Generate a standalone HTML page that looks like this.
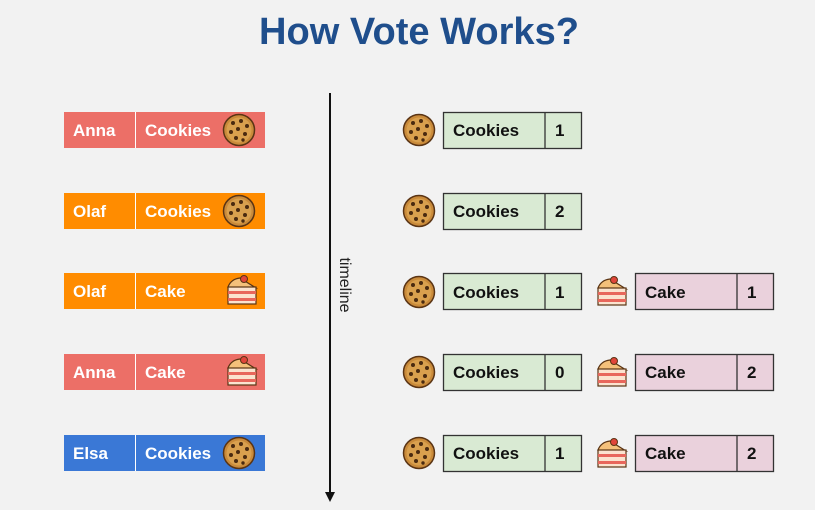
<!DOCTYPE html>
<html><head><meta charset="utf-8"><style>
html,body{margin:0;padding:0;background:#f2f2f2;}
svg{display:block;font-family:"Liberation Sans",sans-serif;}
</style></head><body>
<svg width="815" height="510" viewBox="0 0 815 510" xmlns="http://www.w3.org/2000/svg">
<defs>
<g id="cookie">
<circle cx="16" cy="16" r="15.5" fill="#c98a3a" stroke="#5a3414" stroke-width="1.5"/>
<circle cx="16" cy="16" r="12.5" fill="#d9a04e"/>
<circle cx="10" cy="9" r="2" fill="#4a2a10"/><circle cx="18" cy="7" r="2" fill="#4a2a10"/>
<circle cx="24" cy="12" r="2" fill="#4a2a10"/><circle cx="15" cy="15" r="2" fill="#4a2a10"/>
<circle cx="8" cy="18" r="2" fill="#4a2a10"/><circle cx="22" cy="20" r="2" fill="#4a2a10"/>
<circle cx="13" cy="24" r="2" fill="#4a2a10"/><circle cx="20" cy="26" r="1.7" fill="#4a2a10"/>
</g>
<g id="cake">
<path d="M3 13 Q6 5 15 4 L31 14 Z" fill="#f4c07a" stroke="#5a3414" stroke-width="1.2"/>
<circle cx="19" cy="5" r="3.5" fill="#e0453a" stroke="#5a3414" stroke-width="1"/>
<rect x="3" y="13" width="28" height="17" fill="#fbe3cf" stroke="#5a3414" stroke-width="1.2"/>
<rect x="3" y="17" width="28" height="3" fill="#e8675c"/>
<rect x="3" y="24" width="28" height="3" fill="#e8675c"/>
</g>
</defs>
<text x="419" y="44" text-anchor="middle" font-size="38" font-weight="bold" fill="#1f4e8c" textLength="320" lengthAdjust="spacingAndGlyphs">How Vote Works?</text>

<line x1="330" y1="93" x2="330" y2="496" stroke="#111" stroke-width="2"/>
<path d="M325 492 L330 502 L335 492 Z" fill="#111"/>
<text transform="translate(340,285) rotate(90)" text-anchor="middle" font-size="16" fill="#222">timeline</text>

<g font-size="17" font-weight="bold" fill="#fff">
<!-- left rows -->
<rect x="64" y="112" width="201" height="36" fill="#ec6f67"/><line x1="135.5" y1="112" x2="135.5" y2="148" stroke="#fff"/>
<text x="73" y="136">Anna</text><text x="145" y="136">Cookies</text><use href="#cookie" x="223" y="114"/>
<rect x="64" y="193" width="201" height="36" fill="#ff8c00"/><line x1="135.5" y1="193" x2="135.5" y2="229" stroke="#fff"/>
<text x="73" y="217">Olaf</text><text x="145" y="217">Cookies</text><use href="#cookie" x="223" y="195"/>
<rect x="64" y="273" width="201" height="36" fill="#ff8c00"/><line x1="135.5" y1="273" x2="135.5" y2="309" stroke="#fff"/>
<text x="73" y="297">Olaf</text><text x="145" y="297">Cake</text><use href="#cake" x="225" y="274"/>
<rect x="64" y="354" width="201" height="36" fill="#ec6f67"/><line x1="135.5" y1="354" x2="135.5" y2="390" stroke="#fff"/>
<text x="73" y="378">Anna</text><text x="145" y="378">Cake</text><use href="#cake" x="225" y="355"/>
<rect x="64" y="435" width="201" height="36" fill="#3a78d6"/><line x1="135.5" y1="435" x2="135.5" y2="471" stroke="#fff"/>
<text x="73" y="459">Elsa</text><text x="145" y="459">Cookies</text><use href="#cookie" x="223" y="437"/>
</g>

<g font-size="17" font-weight="bold" fill="#111" stroke-width="1.3">
<use href="#cookie" x="403" y="114"/>
<rect x="443.5" y="112.5" width="138" height="36" fill="#d9ead3" stroke="#333"/><line x1="545" y1="112.5" x2="545" y2="148.5" stroke="#333"/>
<text x="453" y="136">Cookies</text><text x="555" y="136">1</text>

<use href="#cookie" x="403" y="195"/>
<rect x="443.5" y="193.5" width="138" height="36" fill="#d9ead3" stroke="#333"/><line x1="545" y1="193.5" x2="545" y2="229.5" stroke="#333"/>
<text x="453" y="217">Cookies</text><text x="555" y="217">2</text>

<use href="#cookie" x="403" y="276"/>
<rect x="443.5" y="273.5" width="138" height="36" fill="#d9ead3" stroke="#333"/><line x1="545" y1="273.5" x2="545" y2="309.5" stroke="#333"/>
<text x="453" y="298">Cookies</text><text x="555" y="298">1</text>
<use href="#cake" x="595" y="275"/>
<rect x="635.5" y="273.5" width="138" height="36" fill="#ead1dc" stroke="#333"/><line x1="737" y1="273.5" x2="737" y2="309.5" stroke="#333"/>
<text x="645" y="298">Cake</text><text x="747" y="298">1</text>

<use href="#cookie" x="403" y="356"/>
<rect x="443.5" y="354.5" width="138" height="36" fill="#d9ead3" stroke="#333"/><line x1="545" y1="354.5" x2="545" y2="390.5" stroke="#333"/>
<text x="453" y="378">Cookies</text><text x="555" y="378">0</text>
<use href="#cake" x="595" y="356"/>
<rect x="635.5" y="354.5" width="138" height="36" fill="#ead1dc" stroke="#333"/><line x1="737" y1="354.5" x2="737" y2="390.5" stroke="#333"/>
<text x="645" y="378">Cake</text><text x="747" y="378">2</text>

<use href="#cookie" x="403" y="437"/>
<rect x="443.5" y="435.5" width="138" height="36" fill="#d9ead3" stroke="#333"/><line x1="545" y1="435.5" x2="545" y2="471.5" stroke="#333"/>
<text x="453" y="459">Cookies</text><text x="555" y="459">1</text>
<use href="#cake" x="595" y="437"/>
<rect x="635.5" y="435.5" width="138" height="36" fill="#ead1dc" stroke="#333"/><line x1="737" y1="435.5" x2="737" y2="471.5" stroke="#333"/>
<text x="645" y="459">Cake</text><text x="747" y="459">2</text>
</g>
</svg>
</body></html>
